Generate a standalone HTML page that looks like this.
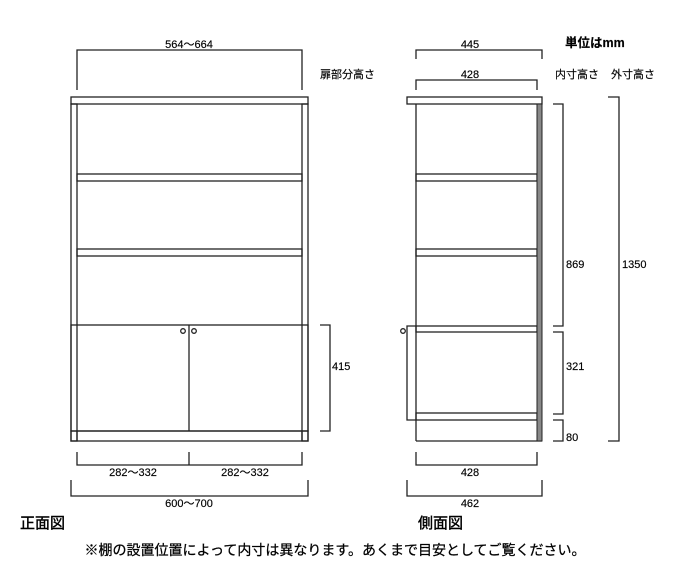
<!DOCTYPE html>
<html><head><meta charset="utf-8"><style>
body{margin:0;background:#fff;width:700px;height:571px;overflow:hidden}
svg text{font-family:"Liberation Sans","Noto Sans CJK JP",sans-serif;font-size:11px;fill:#000;stroke:#000;stroke-width:0.15}
</style></head><body>
<svg width="700" height="571" viewBox="0 0 700 571" xmlns="http://www.w3.org/2000/svg">
<g fill="none" stroke="#222" stroke-width="1.3">
<rect x="71" y="97" width="237" height="7"/>
<rect x="71" y="104" width="6" height="337"/>
<rect x="302" y="104" width="6" height="337"/>
<rect x="77" y="174" width="225" height="7"/>
<rect x="77" y="249" width="225" height="7"/>
<rect x="71" y="325" width="237" height="106"/>
<line x1="189" y1="325" x2="189" y2="431"/>
<rect x="71" y="431" width="237" height="10"/>
<line x1="77" y1="431" x2="77" y2="441"/><line x1="302" y1="431" x2="302" y2="441"/>
<circle cx="183" cy="331" r="2.3"/><circle cx="194" cy="331" r="2.3"/>
<polyline points="77,90 77,50 302,50 302,90"/>
<polyline points="320,325 330,325 330,431 320,431"/>
<polyline points="77,452 77,465 302,465 302,452"/>
<line x1="189" y1="452" x2="189" y2="465"/>
<polyline points="71,480 71,496 308,496 308,480"/>
<rect x="407" y="97" width="135" height="7"/>
<line x1="416" y1="104" x2="416" y2="441"/>
<line x1="416" y1="441" x2="542" y2="441"/>
<rect x="416" y="174" width="121" height="7"/>
<rect x="416" y="249" width="121" height="7"/>
<rect x="416" y="326" width="121" height="6"/>
<rect x="416" y="413" width="121" height="7"/>
<polyline points="416,326 407,326 407,420 416,420"/>
<circle cx="403" cy="331" r="2.3"/>
<polyline points="416,59 416,50 542,50 542,59"/>
<polyline points="416,90 416,80 537,80 537,90"/>
<polyline points="553,104 563,104 563,326 553,326"/>
<polyline points="553,332 563,332 563,414 553,414"/>
<polyline points="553,420 563,420 563,441 553,441"/>
<polyline points="608,97 619,97 619,441 608,441"/>
<polyline points="416,452 416,465 537,465 537,452"/>
<polyline points="407,480 407,496 542,496 542,480"/>
</g>
<rect x="537" y="104" width="5" height="337" fill="#888" stroke="#222" stroke-width="1"/>
<text x="189" y="48" text-anchor="middle">564～664</text>
<text x="320" y="78">扉部分高さ</text>
<text x="332" y="370">415</text>
<text x="133" y="476" text-anchor="middle">282～332</text>
<text x="245" y="476" text-anchor="middle">282～332</text>
<text x="189" y="507" text-anchor="middle">600～700</text>
<text x="470" y="48" text-anchor="middle">445</text>
<text x="470" y="78" text-anchor="middle">428</text>
<text x="565" y="47" style="font-weight:bold;font-size:12.5px">単位はmm</text>
<text x="555" y="78">内寸高さ</text>
<text x="611" y="78">外寸高さ</text>
<text x="566" y="268">869</text>
<text x="622" y="268">1350</text>
<text x="566" y="370">321</text>
<text x="566" y="441">80</text>
<text x="470" y="476" text-anchor="middle">428</text>
<text x="470" y="507" text-anchor="middle">462</text>
<text x="20" y="528" style="font-size:15px;stroke-width:0.4">正面図</text>
<text x="418" y="528" style="font-size:15px;stroke-width:0.4">側面図</text>
<text x="335" y="555" text-anchor="middle" style="font-size:14px;stroke-width:0.25">※棚の設置位置によって内寸は異なります。あくまで目安としてご覧ください。</text>
</svg>
</body></html>
